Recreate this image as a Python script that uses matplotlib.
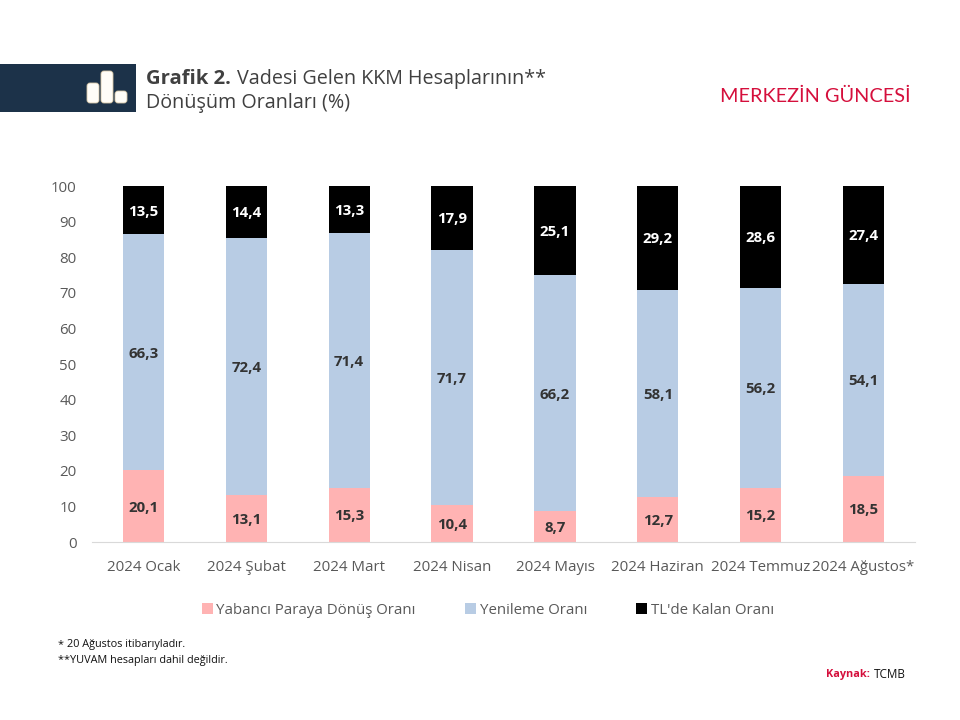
import matplotlib
matplotlib.use('Agg')
import matplotlib.pyplot as plt
from matplotlib.patches import Rectangle, FancyBboxPatch
import numpy as np

plt.rcParams['font.family'] = ['Open Sans', 'DejaVu Sans']

months = ['2024 Ocak', '2024 Şubat', '2024 Mart', '2024 Nisan', '2024 Mayıs',
          '2024 Haziran', '2024 Temmuz', '2024 Ağustos*']
yabanci = [20.1, 13.1, 15.3, 10.4, 8.7, 12.7, 15.2, 18.5]
yenileme = [66.3, 72.4, 71.4, 71.7, 66.2, 58.1, 56.2, 54.1]
tl_kalan = [13.5, 14.4, 13.3, 17.9, 25.1, 29.2, 28.6, 27.4]

series_names = ['Yabancı Paraya Dönüş Oranı', 'Yenileme Oranı', "TL'de Kalan Oranı"]
colors = ['#FFB3B3', '#B8CCE4', '#000000']
label_colors = ['#333333', '#333333', '#FFFFFF']

W, H = 960, 720
fig = plt.figure(figsize=(W / 100, H / 100), dpi=100)

# overlay in pixel coords for the header and footer
bg = fig.add_axes([0, 0, 1, 1])
bg.set_xlim(0, W)
bg.set_ylim(H, 0)
bg.axis('off')

bg.add_patch(Rectangle((0, 64), 136, 48, color='#1C3249', lw=0))
for x0, y0, w, h in [(87, 83, 12, 20), (101, 71, 12, 32), (115, 91, 12, 12)]:
    bg.add_patch(FancyBboxPatch((x0 + 3, y0 + 3), w - 6, h - 6, boxstyle='round,pad=3',
                                fc='#FFFDF8', ec='#D8C8A8', lw=0.6))

bg.text(146, 79, 'Grafik 2.', fontsize=14.6, fontweight='bold', color='#404040', va='center')
bg.text(237, 79, 'Vadesi Gelen KKM Hesaplarının**', fontsize=14.2, color='#404040', va='center')
bg.text(146, 103, 'Dönüşüm Oranları (%)', fontsize=14.2, color='#404040', va='center')
bg.text(911, 96, 'MERKEZİN GÜNCESİ', fontsize=14.3, color='#D50F3C', ha='right', va='center',
        family=['Lato', 'DejaVu Sans'])

bg.text(58, 645, '*', fontsize=7.8, color='#111111', va='center')
bg.text(67, 645, '20 Ağustos itibarıyladır.', fontsize=7.8, color='#111111', va='center')
bg.text(58, 660, '**YUVAM hesapları dahil değildir.', fontsize=7.8, color='#111111', va='center')
bg.text(826, 674, 'Kaynak:', fontsize=7.8, fontweight='bold', color='#D50F3C', va='center')
bg.text(874, 674, 'TCMB', fontsize=8.5, color='#111111', va='center')

# chart
ax = fig.add_axes([92 / W, 1 - 542 / H, (915 - 92) / W, (542 - 186) / H])
ax.patch.set_alpha(0)
x = np.arange(len(months))
bottom = np.zeros(len(months))
for vals, name, col, lcol in zip([yabanci, yenileme, tl_kalan], series_names, colors, label_colors):
    bars = ax.bar(x, vals, 0.4, bottom=bottom, color=col, label=name)
    ax.bar_label(bars, labels=[f'{v:.1f}'.replace('.', ',') for v in vals], label_type='center',
                 padding=-1, fontsize=10.8, fontweight='bold', color=lcol)
    bottom += np.array(vals)

ax.set_xlim(-0.5, len(months) - 0.5)
ax.set_ylim(0, 100)
ax.set_yticks(range(0, 101, 10))
ax.set_xticks(x)
ax.set_xticklabels(months)
ax.tick_params(axis='both', length=0, labelsize=10.8, labelcolor='#595959')
ax.tick_params(axis='x', pad=13)
ax.tick_params(axis='y', pad=11)
for side in ['top', 'right', 'left']:
    ax.spines[side].set_visible(False)
ax.spines['bottom'].set_color('#D9D9D9')

ax.legend(loc='center', bbox_to_anchor=(488 / W, 1 - 610 / H), bbox_transform=fig.transFigure,
          ncol=3, frameon=False, fontsize=10.8, labelcolor='#595959', handlelength=0.7, handleheight=0.7,
          handletextpad=0.25, columnspacing=3.3)

fig.savefig('out.png', dpi=100)
